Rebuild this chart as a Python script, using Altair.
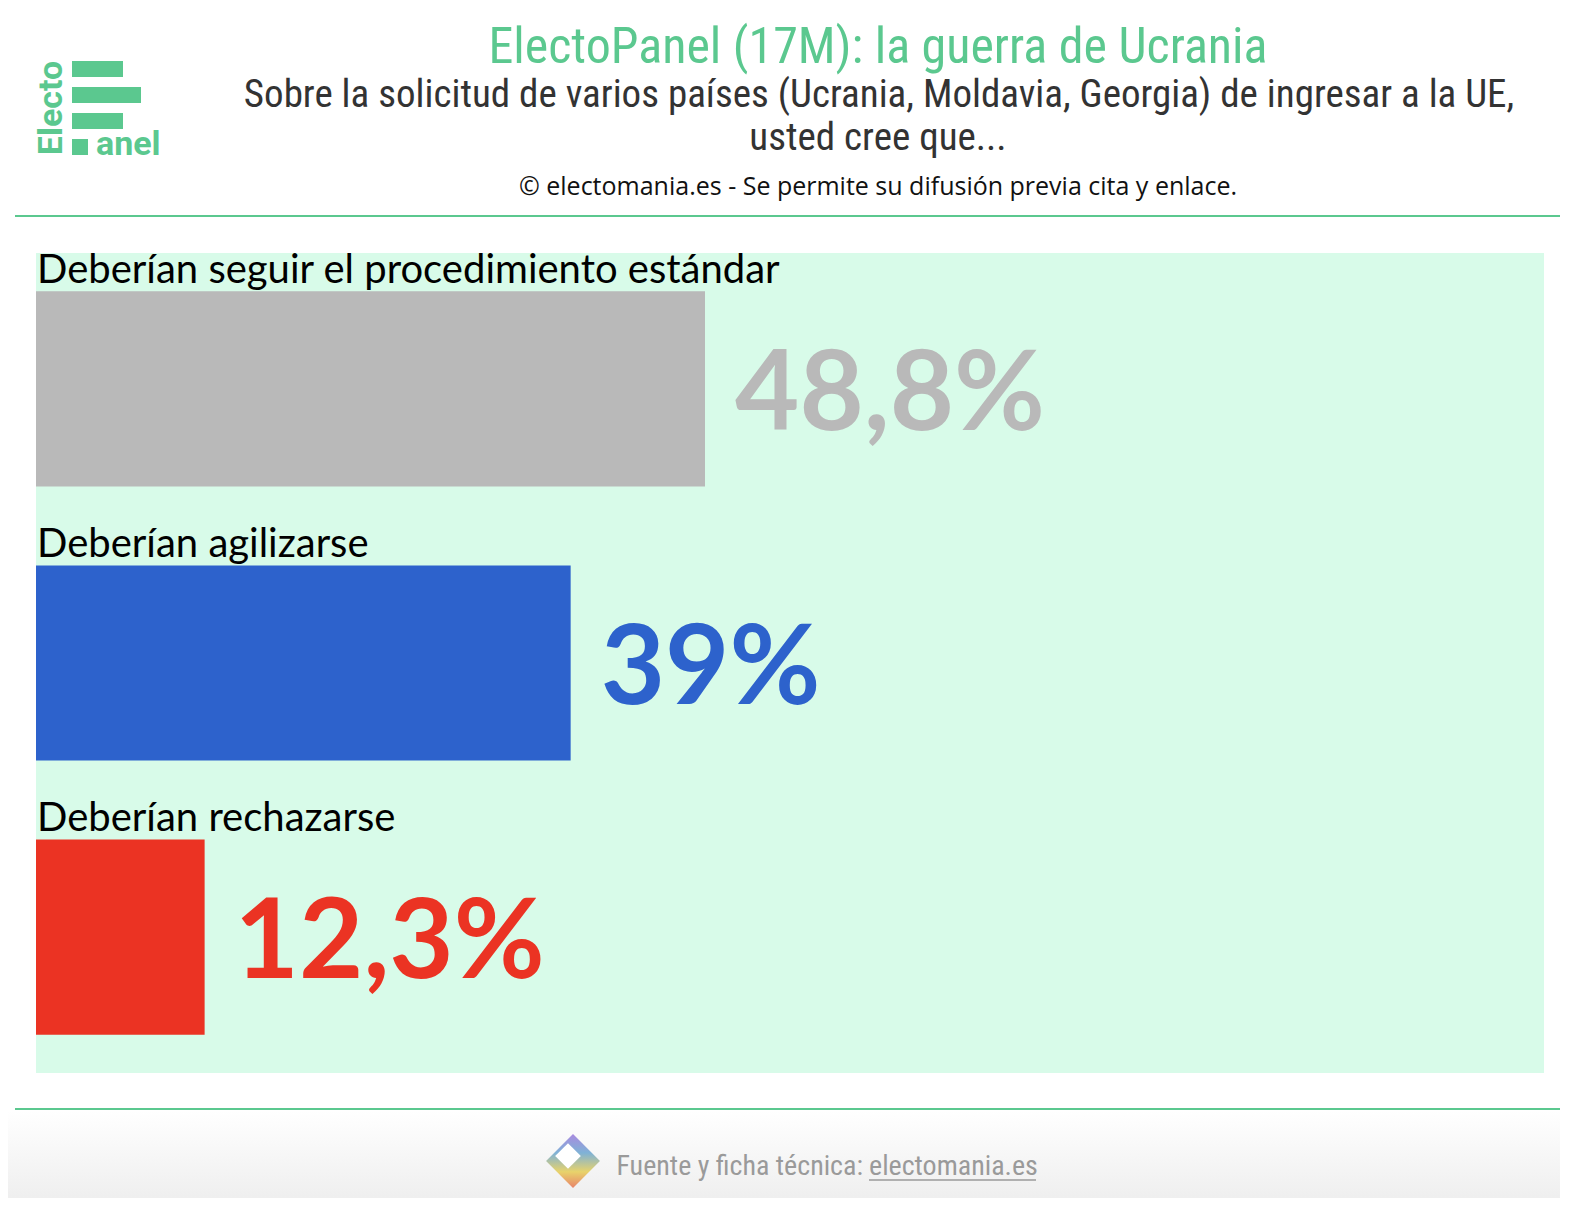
import altair as alt
import pandas as pd

# ---- data ----
categories = [
    "Deberían seguir el procedimiento estándar",
    "Deberían agilizarse",
    "Deberían rechazarse",
]
values = [48.8, 39.0, 12.3]
colors = ["#b9b9b9", "#2d62cc", "#eb3323"]
labels = [f"{v:g}".replace(".", ",") + "%" for v in values]

title_text = "ElectoPanel (17M): la guerra de Ucrania"
subtitle_lines = [
    "Sobre la solicitud de varios países (Ucrania, Moldavia, Georgia) de ingresar a la UE,",
    "usted cree que...",
]
credit_text = "© electomania.es - Se permite su difusión previa cita y enlace."
footer_text = "Fuente y ficha técnica:"
footer_link = "electomania.es"

GREEN = "#5bc88f"
COND = "Roboto Condensed, Roboto, sans-serif"
SANS = "Lato, sans-serif"

df = pd.DataFrame({"cat": categories, "value": values, "label": labels})
one = pd.DataFrame({"k": [0]})

xs = alt.Scale(domain=[0, 110], nice=False, zero=True)
ys = alt.Scale(domain=categories, paddingInner=0.288, paddingOuter=0.14)
cs = alt.Scale(domain=categories, range=colors)

bars = alt.Chart(df).mark_bar().encode(
    x=alt.X("value:Q", scale=xs, axis=None),
    y=alt.Y("cat:N", scale=ys, axis=None, sort=categories),
    color=alt.Color("cat:N", scale=cs, legend=None),
)

cat_text = alt.Chart(df).mark_text(
    align="left", baseline="alphabetic", dy=-8, font=SANS, fontSize=40, color="#000000"
).encode(
    x=alt.value(1),
    y=alt.Y("cat:N", scale=ys, axis=None, sort=categories, bandPosition=0),
    text="cat:N",
)

val_text = alt.Chart(df).mark_text(
    align="left", baseline="middle", dx=30, dy=8, font=SANS, fontSize=111, fontWeight="bold"
).encode(
    x=alt.X("value:Q", scale=xs, axis=None),
    y=alt.Y("cat:N", scale=ys, axis=None, sort=categories),
    text="label:N",
    color=alt.Color("cat:N", scale=cs, legend=None),
)

base = alt.Chart(one)

# header texts
title = base.mark_text(align="center", baseline="alphabetic", font=COND, fontSize=50, color=GREEN).encode(
    x=alt.value(842), y=alt.value(-190), text=alt.value(title_text))
sub1 = base.mark_text(align="center", baseline="alphabetic", font=COND, fontSize=39, color="#333333").encode(
    x=alt.value(843), y=alt.value(-146), text=alt.value(subtitle_lines[0]))
sub2 = base.mark_text(align="center", baseline="alphabetic", font=COND, fontSize=39, color="#333333").encode(
    x=alt.value(842), y=alt.value(-103), text=alt.value(subtitle_lines[1]))
credit = base.mark_text(align="center", baseline="alphabetic", font="Open Sans, sans-serif", fontSize=25, color="#111111").encode(
    x=alt.value(842), y=alt.value(-58), text=alt.value(credit_text))

# separator lines
line_top = base.mark_rule(color=GREEN, strokeWidth=2).encode(
    x=alt.value(-21), x2=alt.value(1524), y=alt.value(-37))
line_bot = base.mark_rule(color=GREEN, strokeWidth=2).encode(
    x=alt.value(-21), x2=alt.value(1524), y=alt.value(856))

# footer background gradient
footer_bg = base.mark_rect(
    fill=alt.LinearGradient(
        gradient="linear", x1=0, y1=0, x2=0, y2=1,
        stops=[alt.GradientStop(color="#ffffff", offset=0), alt.GradientStop(color="#ececec", offset=1)],
    )
).encode(x=alt.value(-28), x2=alt.value(1528), y=alt.value(858), y2=alt.value(960))

footer1 = base.mark_text(align="right", baseline="alphabetic", font=COND, fontSize=28, color="#9a9a9a").encode(
    x=alt.value(827), y=alt.value(922), text=alt.value(footer_text))
footer2 = base.mark_text(align="left", baseline="alphabetic", font=COND, fontSize=28, color="#9a9a9a").encode(
    x=alt.value(833), y=alt.value(922), text=alt.value(footer_link))
underline = base.mark_rule(color="#9a9a9a", strokeWidth=1.5).encode(
    x=alt.value(833), x2=alt.value(1000), y=alt.value(927))

icon = base.mark_square(
    angle=45, size=1450, opacity=1,
    fill=alt.LinearGradient(
        gradient="linear", x1=0, y1=0, x2=1, y2=1,
        stops=[alt.GradientStop(color="#a98be0", offset=0), alt.GradientStop(color="#7fb2d6", offset=0.35),
               alt.GradientStop(color="#e8d36b", offset=0.7), alt.GradientStop(color="#e8836a", offset=1)],
    ),
).encode(x=alt.value(537), y=alt.value(908))
icon_in = base.mark_square(angle=45, size=330, color="#ffffff", opacity=1).encode(
    x=alt.value(532), y=alt.value(903))

# logo
logo_bars = pd.DataFrame({
    "x": [36, 36, 36, 36], "x2": [87, 105, 87, 52],
    "y": [-192, -166, -140, -114], "y2": [-176, -150, -124, -98],
})
logo_rects = alt.Chart(logo_bars).mark_rect(color=GREEN).encode(
    x=alt.X("x:Q", scale=None), x2="x2:Q", y=alt.Y("y:Q", scale=None), y2="y2:Q")
logo_e = base.mark_text(align="center", baseline="middle", angle=270, font="Roboto, sans-serif",
                        fontSize=34, fontWeight="bold", color=GREEN).encode(
    x=alt.value(16), y=alt.value(-145), text=alt.value("Electo"))
logo_a = base.mark_text(align="left", baseline="alphabetic", font="Roboto, sans-serif",
                        fontSize=34, fontWeight="bold", color=GREEN).encode(
    x=alt.value(60), y=alt.value(-98), text=alt.value("anel"))

chart = alt.layer(
    bars, cat_text, val_text,
    footer_bg, line_top, line_bot,
    title, sub1, sub2, credit,
    footer1, footer2, underline, icon, icon_in,
    logo_rects, logo_e, logo_a,
).properties(
    width=1508, height=820,
    autosize=alt.AutoSizeParams(type="none"),
    padding={"left": 28, "top": 245, "right": 16, "bottom": 125},
    background="#ffffff",
).configure_view(fill="#d8fbe9", stroke=None)

chart.save("out.html", embed_options={"renderer": "svg", "actions": False})
